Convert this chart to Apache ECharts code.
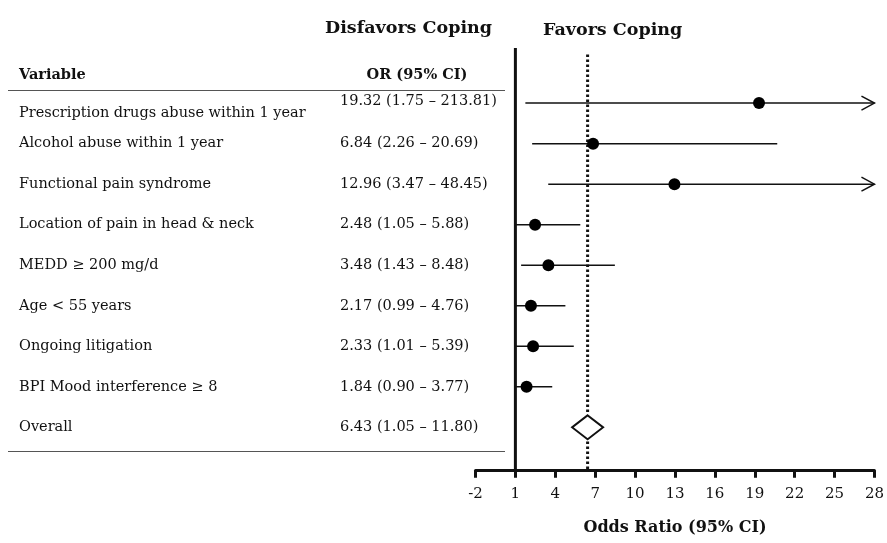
<!DOCTYPE html>
<html>
<head>
<meta charset="utf-8">
<script src="https://cdn.jsdelivr.net/npm/echarts@6/dist/echarts.min.js"></script>
<style>html,body{margin:0;padding:0;background:#fff;}#c{width:887px;height:543px;}</style>
</head>
<body>
<div id="c"></div>
<script>
const categories = ['Prescription drugs abuse within 1 year', 'Alcohol abuse within 1 year', 'Functional pain syndrome', 'Location of pain in head & neck', 'MEDD \u2265 200 mg/d', 'Age < 55 years', 'Ongoing litigation', 'BPI Mood interference \u2265 8'];
const orValues = [19.32, 6.84, 12.96, 2.48, 3.48, 2.17, 2.33, 1.84];
const ciLow = [1.75, 2.26, 3.47, 1.05, 1.43, 0.99, 1.01, 0.90];
const ciHigh = [213.81, 20.69, 48.45, 5.88, 8.48, 4.76, 5.39, 3.77];
const overallLabel = 'Overall';
const overallOR = 6.43;
const overallLow = 1.05;
const overallHigh = 11.80;
const refValue = 1;
const xMin = -2, xMax = 28, xInterval = 3;

const FONT = 'DejaVu Serif';
const C = '#111';
const yMin = -1.36, yMax = 9.07;

const fmt = (o, l, h) => o.toFixed(2) + ' (' + l.toFixed(2) + ' \u2013 ' + h.toFixed(2) + ')';
const nRows = categories.length;

const nameData = categories.map((c, i) => ({ value: [19, i], name: c, label: i === 0 ? { offset: [0, 10] } : {} }));
nameData.push({ value: [19, nRows], name: overallLabel });
const orData = orValues.map((o, i) => ({ value: [340, i], name: fmt(o, ciLow[i], ciHigh[i]), label: i === 0 ? { offset: [0, -2] } : {} }));
orData.push({ value: [340, nRows], name: fmt(overallOR, overallLow, overallHigh) });

const ciData = orValues.map((o, i) => [ciLow[i], i, ciHigh[i]]);
const ptData = orValues.map((o, i) => [o, i]);

const chart = echarts.init(document.getElementById('c'), null, { renderer: 'canvas' });
const textLabel = { show: true, position: 'right', distance: 0, formatter: p => p.name, fontFamily: FONT, fontSize: 14.5, color: C };

chart.setOption({
  backgroundColor: '#fff',
  animation: false,
  grid: [
    { left: 475.5, right: 9.7, top: 48, bottom: 72.3 },
    { left: 0, width: 475.5, top: 48, bottom: 72.3 }
  ],
  xAxis: [
    {
      gridIndex: 0, type: 'value', min: xMin, max: xMax, interval: xInterval,
      splitLine: { show: false },
      axisLine: { show: true, onZero: false, lineStyle: { color: C, width: 3 } },
      axisTick: { show: true, inside: false, length: 7, lineStyle: { color: C, width: 3 } },
      axisLabel: { fontFamily: FONT, fontSize: 15, color: C, margin: 16 },
      name: 'Odds Ratio (95% CI)', nameLocation: 'middle', nameGap: 49,
      nameTextStyle: { fontFamily: FONT, fontSize: 16, fontWeight: 'bold', color: C }
    },
    { gridIndex: 1, type: 'value', min: 0, max: 475.5, show: false }
  ],
  yAxis: [
    { gridIndex: 0, type: 'value', min: yMin, max: yMax, inverse: true, show: false },
    { gridIndex: 1, type: 'value', min: yMin, max: yMax, inverse: true, show: false }
  ],
  graphic: [
    { type: 'text', x: 492, y: 28, style: { text: 'Disfavors Coping', font: 'bold 17.5px "' + FONT + '"', fill: C, align: 'right', verticalAlign: 'middle' } },
    { type: 'text', x: 543, y: 30, style: { text: 'Favors Coping', font: 'bold 17.5px "' + FONT + '"', fill: C, align: 'left', verticalAlign: 'middle' } },
    { type: 'text', x: 19, y: 75, style: { text: 'Variable', font: 'bold 14.5px "' + FONT + '"', fill: C, align: 'left', verticalAlign: 'middle' } },
    { type: 'text', x: 417, y: 75, style: { text: 'OR (95% CI)', font: 'bold 14.5px "' + FONT + '"', fill: C, align: 'center', verticalAlign: 'middle' } },
    { type: 'line', shape: { x1: 8, y1: 90.5, x2: 505, y2: 90.5 }, style: { stroke: '#555', lineWidth: 1 } },
    { type: 'line', shape: { x1: 8, y1: 451.5, x2: 505, y2: 451.5 }, style: { stroke: '#555', lineWidth: 1 } }
  ],
  series: [
    {
      type: 'line', xAxisIndex: 0, yAxisIndex: 0, symbol: 'none', silent: true,
      data: [[refValue, yMin], [refValue, yMax]],
      lineStyle: { color: C, width: 3 }, z: 3
    },
    {
      type: 'line', xAxisIndex: 0, yAxisIndex: 0, symbol: 'none', silent: true,
      data: [[overallOR, -1.2], [overallOR, nRows - 0.35]],
      lineStyle: { color: C, width: 3, type: [2.5, 2.5] }, z: 2
    },
    {
      type: 'line', xAxisIndex: 0, yAxisIndex: 0, symbol: 'none', silent: true,
      data: [[overallOR, nRows + 0.35], [overallOR, yMax]],
      lineStyle: { color: C, width: 3, type: [2.5, 2.5] }, z: 2
    },
    {
      type: 'custom', xAxisIndex: 0, yAxisIndex: 0, data: ciData, z: 4,
      encode: { x: [0, 2], y: 1 },
      renderItem: function (params, api) {
        const lo = api.value(0), row = api.value(1), hi = api.value(2);
        const p1 = api.coord([lo, row]);
        const clipped = hi > xMax;
        const p2 = api.coord([Math.min(hi, xMax), row]);
        const children = [{ type: 'line', shape: { x1: p1[0], y1: p1[1], x2: p2[0], y2: p2[1] }, style: { stroke: C, lineWidth: 1.5 } }];
        if (clipped) {
          children.push({ type: 'polyline', shape: { points: [[p2[0] - 13, p2[1] - 7], [p2[0], p2[1]], [p2[0] - 13, p2[1] + 7]] }, style: { stroke: C, lineWidth: 1.5, fill: 'none' } });
        }
        return { type: 'group', children: children };
      }
    },
    {
      type: 'scatter', xAxisIndex: 0, yAxisIndex: 0, data: ptData, symbol: 'circle', symbolSize: 12,
      itemStyle: { color: '#000', opacity: 1 }, z: 5
    },
    {
      type: 'scatter', xAxisIndex: 0, yAxisIndex: 0, data: [[overallOR, nRows]], symbol: 'diamond', symbolSize: [31, 24],
      itemStyle: { color: '#fff', borderColor: C, borderWidth: 2, opacity: 1 }, z: 5
    },
    {
      type: 'scatter', xAxisIndex: 1, yAxisIndex: 1, data: nameData, symbolSize: 0, label: textLabel, silent: true,
      itemStyle: { opacity: 1 }
    },
    {
      type: 'scatter', xAxisIndex: 1, yAxisIndex: 1, data: orData, symbolSize: 0, label: textLabel, silent: true,
      itemStyle: { opacity: 1 }
    }
  ]
});
</script>
</body>
</html>
